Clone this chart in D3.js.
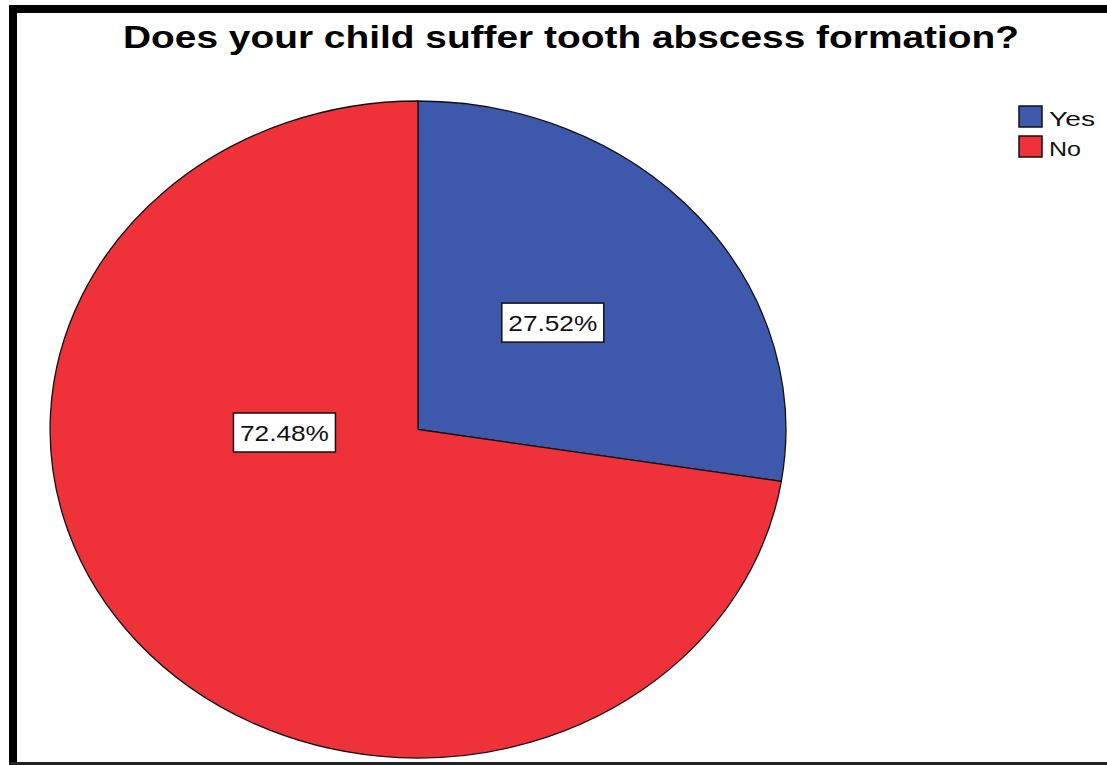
<!DOCTYPE html>
<html>
<head>
<meta charset="utf-8">
<script src="https://cdn.jsdelivr.net/npm/d3@7"></script>
<style>
  body { margin: 0; background: #fff; }
  text { font-family: "Liberation Sans", Arial, sans-serif; }
</style>
</head>
<body>
<svg width="1107" height="765"></svg>
<script>
const title = "Does your child suffer tooth abscess formation?";
const categories = ["Yes", "No"];
const percents = [27.52, 72.48];
const colors = ["#3e58ac", "#ef313a"];

const svg = d3.select("svg");
const W = 1107, H = 765;
const sx = 1.12; // the picture is stretched sideways

// frame
svg.append("rect").attr("x", 0).attr("y", 0).attr("width", W).attr("height", H).attr("fill", "#fff");
svg.append("rect").attr("x", 9).attr("y", 5).attr("width", W - 9).attr("height", 8).attr("fill", "#000");
svg.append("rect").attr("x", 9).attr("y", 5).attr("width", 8).attr("height", H - 5).attr("fill", "#000");
svg.append("rect").attr("x", 9).attr("y", 762).attr("width", W - 9).attr("height", 3).attr("fill", "#222");

// title
svg.append("text")
    .attr("x", 571).attr("y", 48)
    .attr("text-anchor", "middle")
    .attr("font-size", 32).attr("font-weight", "bold")
    .attr("textLength", 896).attr("lengthAdjust", "spacingAndGlyphs")
    .text(title);

// pie
const cx = 418, cy = 429.5, R = 328.5;
const pie = d3.pie().sort(null).value(d => d)(percents);
const arc = d3.arc().innerRadius(0).outerRadius(R);

const g = svg.append("g").attr("transform", `translate(${cx},${cy}) scale(${sx},1)`);
g.selectAll("path")
    .data(pie)
    .join("path")
    .attr("d", arc)
    .attr("fill", (d, i) => colors[i])
    .attr("stroke", "#111")
    .attr("stroke-width", 1.3)
    .attr("vector-effect", "non-scaling-stroke");

// labels (SPSS puts the big slice's label near the centre-left)
const labelSpot = (d, i) => {
    const mid = (d.startAngle + d.endAngle) / 2;
    const a = i === 0 ? mid - 0.02 : -Math.PI / 2;
    const f = i === 0 ? 0.49 : 0.363;
    return [cx + Math.sin(a) * R * f * sx, cy - Math.cos(a) * R * f + (i === 0 ? 0 : 3)];
};

const lab = svg.append("g").selectAll("g")
    .data(pie)
    .join("g")
    .attr("transform", (d, i) => `translate(${labelSpot(d, i)})`);

lab.append("rect")
    .attr("x", -51).attr("y", -19.5)
    .attr("width", 102).attr("height", 39)
    .attr("fill", "#fff").attr("stroke", "#111").attr("stroke-width", 1.5);

lab.append("text")
    .attr("x", 0).attr("y", 8)
    .attr("text-anchor", "middle")
    .attr("font-size", 22)
    .attr("textLength", 89).attr("lengthAdjust", "spacingAndGlyphs")
    .attr("fill", "#111")
    .text(d => d3.format(".2f")(d.data) + "%");

// legend
const leg = svg.append("g").selectAll("g")
    .data(categories)
    .join("g")
    .attr("transform", (d, i) => `translate(1019,${106 + i * 30})`);

leg.append("rect")
    .attr("width", 23).attr("height", 21)
    .attr("fill", (d, i) => colors[i])
    .attr("stroke", "#111").attr("stroke-width", 1.5);

leg.append("text")
    .attr("x", 30).attr("y", 20)
    .attr("font-size", 21)
    .attr("textLength", d => d === "Yes" ? 46 : 32)
    .attr("lengthAdjust", "spacingAndGlyphs")
    .attr("fill", "#111")
    .text(d => d);
</script>
</body>
</html>
